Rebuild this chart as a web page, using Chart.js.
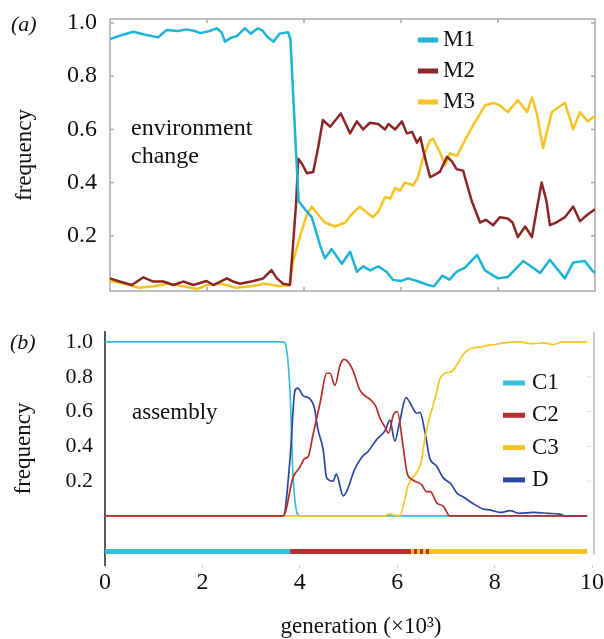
<!DOCTYPE html>
<html lang="en">
<head>
<meta charset="UTF-8">
<title>frequency vs generation</title>
<script src="https://cdn.jsdelivr.net/npm/chart.js"></script>
<style>
  body { margin: 0; background: #fff; }
  .panel { position: absolute; left: 0; }
  #panelA { top: 0; }
  #panelB { top: 300px; }
</style>
</head>
<body>
<canvas id="panelA" class="panel" width="604" height="300"></canvas>
<canvas id="panelB" class="panel" width="604" height="339"></canvas>
<script>
// ---- (a) environment change: generation (x10^3) and frequency of M1..M3
const genM1 = [0, 0.25, 0.48, 0.75, 0.99, 1.17, 1.4, 1.58, 1.75, 1.86, 2.05, 2.2, 2.3, 2.37, 2.5, 2.61, 2.78, 2.9, 3.05, 3.15, 3.26, 3.37, 3.5, 3.67, 3.72, 3.78, 3.84, 3.89, 4.02, 4.16, 4.33, 4.43, 4.57, 4.78, 4.95, 5.09, 5.22, 5.36, 5.53, 5.7, 5.84, 6.0, 6.15, 6.33, 6.56, 6.68, 6.85, 7.0, 7.15, 7.32, 7.57, 7.73, 8.0, 8.2, 8.52, 8.72, 8.87, 9.07, 9.2, 9.38, 9.55, 9.79, 9.94, 10];
const m1 = [0.94, 0.955, 0.967, 0.955, 0.946, 0.974, 0.97, 0.976, 0.97, 0.962, 0.97, 0.98, 0.965, 0.93, 0.945, 0.95, 0.98, 0.96, 0.98, 0.97, 0.945, 0.93, 0.96, 0.965, 0.94, 0.72, 0.5, 0.33, 0.3, 0.27, 0.165, 0.115, 0.15, 0.095, 0.14, 0.065, 0.085, 0.07, 0.085, 0.065, 0.034, 0.03, 0.04, 0.03, 0.015, 0.01, 0.05, 0.035, 0.065, 0.08, 0.128, 0.07, 0.04, 0.045, 0.105, 0.08, 0.06, 0.11, 0.08, 0.04, 0.1, 0.105, 0.07, 0.06];

const genM2 = [0, 0.2, 0.45, 0.69, 0.89, 1.1, 1.31, 1.51, 1.72, 1.99, 2.13, 2.41, 2.54, 2.68, 2.96, 3.16, 3.33, 3.44, 3.57, 3.71, 3.77, 3.84, 3.88, 3.96, 4.06, 4.19, 4.29, 4.39, 4.54, 4.76, 4.95, 5.09, 5.22, 5.36, 5.53, 5.67, 5.74, 5.88, 6.02, 6.12, 6.23, 6.33, 6.4, 6.5, 6.6, 6.7, 6.8, 6.95, 7.05, 7.15, 7.28, 7.46, 7.63, 7.75, 7.9, 8.04, 8.2, 8.3, 8.41, 8.56, 8.7, 8.8, 8.9, 9.0, 9.07, 9.2, 9.38, 9.55, 9.69, 9.85, 10];
const m2 = [0.04, 0.028, 0.015, 0.044, 0.028, 0.028, 0.015, 0.028, 0.015, 0.03, 0.015, 0.04, 0.028, 0.02, 0.03, 0.04, 0.071, 0.04, 0.02, 0.015, 0.155, 0.33, 0.49, 0.47, 0.435, 0.44, 0.53, 0.635, 0.61, 0.66, 0.585, 0.63, 0.6, 0.625, 0.62, 0.6, 0.62, 0.6, 0.63, 0.585, 0.59, 0.55, 0.57, 0.49, 0.42, 0.43, 0.44, 0.497, 0.48, 0.45, 0.445, 0.33, 0.25, 0.26, 0.24, 0.27, 0.265, 0.25, 0.195, 0.235, 0.195, 0.3, 0.4, 0.33, 0.24, 0.25, 0.27, 0.31, 0.255, 0.28, 0.3];

const genM3 = [0, 0.3, 0.6, 0.9, 1.2, 1.5, 1.8, 2.0, 2.3, 2.6, 2.9, 3.2, 3.5, 3.71, 3.77, 3.92, 4.06, 4.16, 4.29, 4.43, 4.64, 4.85, 4.98, 5.15, 5.28, 5.42, 5.53, 5.67, 5.78, 5.88, 5.98, 6.08, 6.25, 6.35, 6.45, 6.6, 6.66, 6.8, 6.91, 7.01, 7.15, 7.25, 7.38, 7.5, 7.57, 7.73, 7.9, 8.04, 8.2, 8.41, 8.6, 8.7, 8.8, 8.93, 9.02, 9.11, 9.38, 9.55, 9.69, 9.85, 10];
const m3 = [0.03, 0.02, 0.005, 0.01, 0.02, 0.01, 0.0, 0.015, 0.02, 0.005, 0.01, 0.02, 0.01, 0.015, 0.1, 0.2, 0.28, 0.31, 0.28, 0.25, 0.235, 0.25, 0.28, 0.31, 0.29, 0.27, 0.29, 0.345, 0.34, 0.38, 0.37, 0.4, 0.39, 0.42, 0.49, 0.56, 0.565, 0.515, 0.465, 0.51, 0.5, 0.535, 0.58, 0.62, 0.64, 0.69, 0.7, 0.69, 0.665, 0.71, 0.665, 0.72, 0.66, 0.53, 0.6, 0.665, 0.7, 0.6, 0.665, 0.63, 0.65];

// ---- (b) assembly: C1..C3 and D
const genC1 = [0, 3.65, 3.7, 3.8, 3.86, 3.94, 4.0, 9.9];
const c1 = [1.0, 1.0, 0.99, 0.71, 0.235, 0.02, 0, 0];

const genC2 = [0, 3.66, 3.86, 4.0, 4.1, 4.17, 4.27, 4.42, 4.55, 4.62, 4.72, 4.83, 4.91, 5.07, 5.24, 5.44, 5.55, 5.65, 5.75, 5.82, 5.92, 6.0, 6.12, 6.2, 6.3, 6.5, 6.6, 6.68, 6.81, 6.95, 7.08, 9.9];
const c2 = [0, 0, 0.22, 0.28, 0.33, 0.34, 0.465, 0.655, 0.82, 0.82, 0.75, 0.87, 0.9, 0.85, 0.72, 0.67, 0.635, 0.56, 0.51, 0.475, 0.58, 0.6, 0.4, 0.25, 0.21, 0.18, 0.14, 0.14, 0.075, 0.055, 0, 0];

const genC3 = [0, 5.75, 5.82, 5.95, 6.05, 6.23, 6.4, 6.5, 6.57, 6.64, 6.78, 6.88, 6.98, 7.12, 7.25, 7.39, 7.56, 7.7, 7.85, 8.0, 8.2, 8.5, 8.8, 9.0, 9.2, 9.4, 9.9];
const c3 = [0, 0, 0.01, 0.005, 0, 0.18, 0.25, 0.32, 0.45, 0.54, 0.68, 0.79, 0.82, 0.83, 0.88, 0.94, 0.965, 0.97, 0.98, 0.985, 0.995, 1.0, 0.99, 0.995, 0.985, 1.0, 1.0];

const genD = [0, 3.66, 3.8, 3.9, 3.96, 4.07, 4.2, 4.3, 4.37, 4.48, 4.55, 4.68, 4.75, 4.89, 4.96, 5.13, 5.28, 5.4, 5.58, 5.75, 5.85, 5.95, 6.05, 6.18, 6.3, 6.4, 6.47, 6.57, 6.67, 6.8, 6.94, 7.1, 7.23, 7.35, 7.56, 7.76, 7.9, 8.11, 8.32, 8.5, 8.8, 9.1, 9.34, 9.45, 9.9];
const d = [0, 0, 0.33, 0.72, 0.735, 0.69, 0.675, 0.62, 0.5, 0.38, 0.22, 0.2, 0.24, 0.115, 0.14, 0.27, 0.34, 0.37, 0.44, 0.49, 0.55, 0.43, 0.54, 0.68, 0.63, 0.59, 0.595, 0.48, 0.33, 0.29, 0.22, 0.185, 0.13, 0.11, 0.07, 0.04, 0.035, 0.02, 0.03, 0.015, 0.02, 0.015, 0.01, 0, 0];

// dominant type strip under panel (b)
const stripGen = [0, 3.8, 6.22, 9.9];
const stripOwner = ['C1', 'C2', 'C3'];
const mixedGen = [6.22, 6.71];   // C2 dashed over C3

const yTicks = [0.2, 0.4, 0.6, 0.8, 1.0];
const xTicks = [0, 2, 4, 6, 8, 10];

const colA = { M1: '#1db4d8', M2: '#8c2626', M3: '#f8c425' };
const colB = { C1: '#38bddb', C2: '#b3302c', C3: '#f6c523', D: '#2b48a0' };
const STRIP_Y = -0.205;

Chart.defaults.font.family = '"Liberation Serif", "Times New Roman", serif';
Chart.defaults.color = '#111';

function pts(xs, ys) {
  return xs.map((x, i) => ({ x: x, y: ys[i] }));
}

// legend drawn inside the plot
const insideLegend = {
  id: 'insideLegend',
  afterDraw(chart, args, opts) {
    const ctx = chart.ctx;
    ctx.save();
    ctx.font = opts.font;
    ctx.textBaseline = 'middle';
    let y = opts.top;
    chart.data.datasets.filter(ds => !ds.strip).forEach(ds => {
      ctx.fillStyle = ds.borderColor;
      ctx.fillRect(opts.left, y - opts.lineWidth / 2, opts.lineLen, opts.lineWidth);
      ctx.fillStyle = '#111';
      ctx.fillText(ds.label, opts.left + opts.lineLen + opts.textGap, y);
      y += opts.rowGap;
    });
    ctx.restore();
  }
};

const notes = {
  id: 'notes',
  afterDraw(chart, args, opts) {
    const ctx = chart.ctx;
    ctx.save();
    ctx.fillStyle = '#111';
    ctx.textBaseline = 'alphabetic';
    ctx.textAlign = 'left';
    opts.items.forEach(it => {
      ctx.font = it.font;
      ctx.fillText(it.text, it.x, it.y);
    });
    ctx.restore();
  }
};

// box with inward ticks for panel (a)
const frame = {
  id: 'frame',
  beforeDatasetsDraw(chart, args, opts) {
    const { ctx, chartArea: a, scales: { x, y } } = chart;
    ctx.save();
    ctx.strokeStyle = opts.color;
    ctx.lineWidth = 1.5;
    ctx.strokeRect(a.left, a.top, a.right - a.left, a.bottom - a.top);
    ctx.beginPath();
    yTicks.forEach(v => {
      const py = y.getPixelForValue(v);
      ctx.moveTo(a.left, py); ctx.lineTo(a.left + opts.tick, py);
      ctx.moveTo(a.right, py); ctx.lineTo(a.right - opts.tick, py);
    });
    xTicks.slice(1, -1).forEach(v => {
      const px = x.getPixelForValue(v);
      ctx.moveTo(px, a.top); ctx.lineTo(px, a.top + opts.tick);
      ctx.moveTo(px, a.bottom); ctx.lineTo(px, a.bottom - opts.tick);
    });
    ctx.stroke();
    ctx.restore();
  }
};

// light right-hand axis for panel (b)
const rightAxis = {
  id: 'rightAxis',
  beforeDatasetsDraw(chart, args, opts) {
    const { ctx, chartArea: a, scales: { y } } = chart;
    ctx.save();
    ctx.strokeStyle = opts.color;
    ctx.lineWidth = 2;
    ctx.beginPath();
    ctx.moveTo(a.right, a.top);
    ctx.lineTo(a.right, y.getPixelForValue(STRIP_Y) + 3);
    ctx.stroke();
    ctx.strokeStyle = '#e2e2e2';
    ctx.lineWidth = 1;
    ctx.beginPath();
    yTicks.slice(0, -1).forEach(v => {
      const py = y.getPixelForValue(v);
      ctx.moveTo(a.right - 7, py); ctx.lineTo(a.right - 3, py);
    });
    ctx.stroke();
    ctx.restore();
  }
};

new Chart(document.getElementById('panelA'), {
  type: 'line',
  data: {
    datasets: [
      { label: 'M1', data: pts(genM1, m1), borderColor: colA.M1 },
      { label: 'M2', data: pts(genM2, m2), borderColor: colA.M2 },
      { label: 'M3', data: pts(genM3, m3), borderColor: colA.M3 }
    ]
  },
  options: {
    responsive: false,
    animation: false,
    devicePixelRatio: 1,
    layout: { padding: { top: 19, right: 9, bottom: 9, left: 0 } },
    elements: {
      point: { radius: 0 },
      line: { borderWidth: 2.5, tension: 0, borderJoinStyle: 'round' }
    },
    plugins: {
      legend: { display: false },
      tooltip: { enabled: false },
      insideLegend: { left: 418, top: 40, rowGap: 31, lineLen: 20, lineWidth: 5, textGap: 5, font: '23px "Liberation Serif"' },
      notes: {
        items: [
          { text: '(a)', x: 11, y: 31, font: 'italic 22px "Liberation Serif"' },
          { text: 'environment', x: 131, y: 135, font: '24px "Liberation Serif"' },
          { text: 'change', x: 131, y: 163, font: '24px "Liberation Serif"' }
        ]
      },
      frame: { color: '#ababab', tick: 4 }
    },
    scales: {
      x: { type: 'linear', display: false, min: 0, max: 10 },
      y: {
        min: -0.0075,
        max: 1.015,
        afterBuildTicks: s => { s.ticks = yTicks.map(v => ({ value: v })); },
        afterFit: s => { s.width = 110; s.paddingTop = 0; s.paddingBottom = 0; },
        grid: { display: false, drawTicks: true, tickLength: 13 },
        border: { display: false },
        ticks: { padding: 0, font: { size: 24 }, callback: v => v.toFixed(1) },
        title: { display: true, text: 'frequency', font: { size: 23 }, padding: { top: 11, bottom: 0 } }
      }
    }
  },
  plugins: [frame, insideLegend, notes]
});

const bSets = [
  { label: 'C1', data: pts(genC1, c1), borderColor: colB.C1, order: 3 },
  { label: 'C2', data: pts(genC2, c2), borderColor: colB.C2, order: 0 },
  { label: 'C3', data: pts(genC3, c3), borderColor: colB.C3, order: 1 },
  { label: 'D', data: pts(genD, d), borderColor: colB.D, order: 2 }
];
stripOwner.forEach((k, i) => {
  bSets.push({
    label: '', strip: true, order: 5, borderColor: colB[k], borderWidth: 5, borderCapStyle: 'butt',
    cubicInterpolationMode: 'default',
    data: [{ x: stripGen[i], y: STRIP_Y }, { x: stripGen[i + 1], y: STRIP_Y }]
  });
});
bSets.push({
  label: '', strip: true, order: 4, borderColor: colB.C2, borderWidth: 5, borderDash: [3, 3],
  borderCapStyle: 'butt', cubicInterpolationMode: 'default',
  data: [{ x: mixedGen[0], y: STRIP_Y }, { x: mixedGen[1], y: STRIP_Y }]
});

new Chart(document.getElementById('panelB'), {
  type: 'line',
  data: { datasets: bSets },
  options: {
    responsive: false,
    animation: false,
    devicePixelRatio: 1,
    layout: { padding: { top: 32, right: 10, bottom: 0, left: 0 } },
    elements: {
      point: { radius: 0 },
      line: { borderWidth: 1.7, cubicInterpolationMode: 'monotone' }
    },
    plugins: {
      legend: { display: false },
      tooltip: { enabled: false },
      insideLegend: { left: 503, top: 83, rowGap: 32.3, lineLen: 22, lineWidth: 5, textGap: 7, font: '23px "Liberation Serif"' },
      notes: {
        items: [
          { text: '(b)', x: 10, y: 49, font: 'italic 22px "Liberation Serif"' },
          { text: 'assembly', x: 132, y: 119, font: '23px "Liberation Serif"' }
        ]
      },
      rightAxis: { color: '#c9c9c9' }
    },
    scales: {
      x: {
        type: 'linear',
        min: 0,
        max: 10.04,
        afterBuildTicks: s => { s.ticks = xTicks.map(v => ({ value: v })); },
        afterFit: s => { s.height = 74; s.paddingLeft = 0; s.paddingRight = 0; },
        border: { display: false },
        grid: { display: true, drawOnChartArea: false, drawTicks: true, tickLength: 3, color: '#cfcfcf' },
        ticks: { padding: 0, font: { size: 24 }, maxRotation: 0, autoSkip: false },
        title: {
          display: true,
          text: '\u2002\u2002generation (\u00d710\u00b3)',
          font: { size: 23, lineHeight: 1 },
          padding: { top: 0, bottom: 0.5 }
        }
      },
      y: {
        min: -0.282,
        max: 1.057,
        afterBuildTicks: s => { s.ticks = yTicks.map(v => ({ value: v })); },
        afterFit: s => { s.width = 105; s.paddingTop = 0; s.paddingBottom = 0; },
        grid: { display: false, drawTicks: true, tickLength: 12 },
        border: { display: true, color: '#5a5a5a', width: 2 },
        ticks: { padding: 0, font: { size: 22 }, callback: v => v.toFixed(1) },
        title: { display: true, text: 'frequency', font: { size: 23 }, padding: { top: 10, bottom: 0 } }
      }
    }
  },
  plugins: [rightAxis, insideLegend, notes]
});
</script>
</body>
</html>
